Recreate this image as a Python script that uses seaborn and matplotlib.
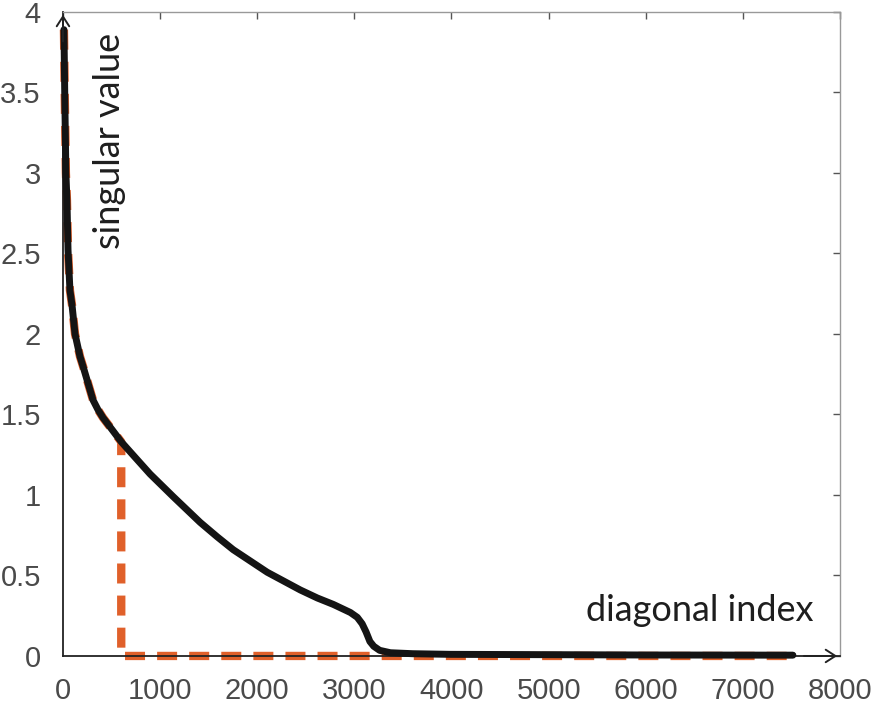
import seaborn as sns
import matplotlib.pyplot as plt
import pandas as pd

# valores singulares
idx = [10, 18, 30, 41, 52, 72, 93, 124, 175, 206, 260, 309, 360, 412, 500,
       600, 763, 897, 1134, 1412, 1588, 1753, 2103, 2443, 2619, 2784, 2959,
       3030, 3080, 3120, 3160, 3200, 3260, 3371, 3600, 3990, 5000, 6000,
       7515]
sv = [3.89, 3.5, 3.0, 2.83, 2.52, 2.27, 2.18, 2.0, 1.86, 1.80, 1.69, 1.59,
      1.53, 1.48, 1.41, 1.33, 1.22, 1.13, 0.99, 0.83, 0.74, 0.66, 0.52,
      0.41, 0.36, 0.32, 0.27, 0.24, 0.20, 0.15, 0.09, 0.06, 0.035, 0.02,
      0.014, 0.01, 0.008, 0.006, 0.005]

# aproximación truncada (rango 600)
cut = 600
trunc_idx = [i for i in idx if i <= cut] + [cut, 7515]
trunc_sv = [v for i, v in zip(idx, sv) if i <= cut] + [0, 0]

xticks = [0, 1000, 2000, 3000, 4000, 5000, 6000, 7000, 8000]
yticks = [0, 0.5, 1, 1.5, 2, 2.5, 3, 3.5, 4]
ytick_labels = ["0", "0.5", "1", "1.5", "2", "2.5", "3", "3.5", "4"]

df = pd.DataFrame({"idx": idx, "sv": sv})
df_t = pd.DataFrame({"idx": trunc_idx, "sv": trunc_sv})

sns.set_style("white")
plt.rcParams["font.family"] = ["Liberation Sans", "DejaVu Sans"]

fig = plt.figure(figsize=(8.71, 7.13), dpi=100)
ax = fig.add_axes([0.0723, 0.0800, 0.8921, 0.9032])

sns.lineplot(data=df_t, x="idx", y="sv", sort=False, estimator=None,
             color="#e0602a", lw=6, ax=ax, zorder=2)
ax.lines[-1].set_dashes([2.4, 1.45])
ax.lines[-1].set_dash_capstyle("butt")
ax.lines[-1].set_clip_on(False)
sns.lineplot(data=df, x="idx", y="sv", sort=False, estimator=None,
             color="#141414", lw=5, ax=ax, zorder=3)
ax.lines[-1].set_clip_on(False)

ax.set_xlim(0, 8000)
ax.set_ylim(0, 4)
ax.set_xticks(xticks)
ax.set_yticks(yticks)
ax.set_yticklabels(ytick_labels)
ax.set_xlabel("")
ax.set_ylabel("")
ax.tick_params(direction="in", length=5, width=1, labelsize=21,
               labelcolor="#4a4a4a", top=True, right=True, color="#555555")
ax.tick_params(axis="y", pad=16)
ax.tick_params(axis="x", pad=15)

for s in ["top", "right"]:
    ax.spines[s].set_color("#999999")
    ax.spines[s].set_linewidth(1)
for s in ["left", "bottom"]:
    ax.spines[s].set_color("#222222")
    ax.spines[s].set_linewidth(1.3)

# flechas de los ejes
arrow = dict(arrowstyle="->,head_length=0.7,head_width=0.45", lw=1.4, color="#222222")
ax.annotate("", xy=(0, 1.0), xytext=(0, 0.95), xycoords="axes fraction",
            arrowprops=arrow, annotation_clip=False)
ax.annotate("", xy=(1.0, 0), xytext=(0.95, 0), xycoords="axes fraction",
            arrowprops=arrow, annotation_clip=False)

ax.text(0.0605, 0.80, "singular value", rotation=90, ha="center", va="center",
        fontsize=26, color="#1e1e1e", family=["Lato", "DejaVu Sans"],
        transform=ax.transAxes)
ax.text(0.82, 0.071, "diagonal index", ha="center", va="center",
        fontsize=26, color="#1e1e1e", family=["Lato", "DejaVu Sans"],
        transform=ax.transAxes)

fig.savefig("out.png", dpi=100)
